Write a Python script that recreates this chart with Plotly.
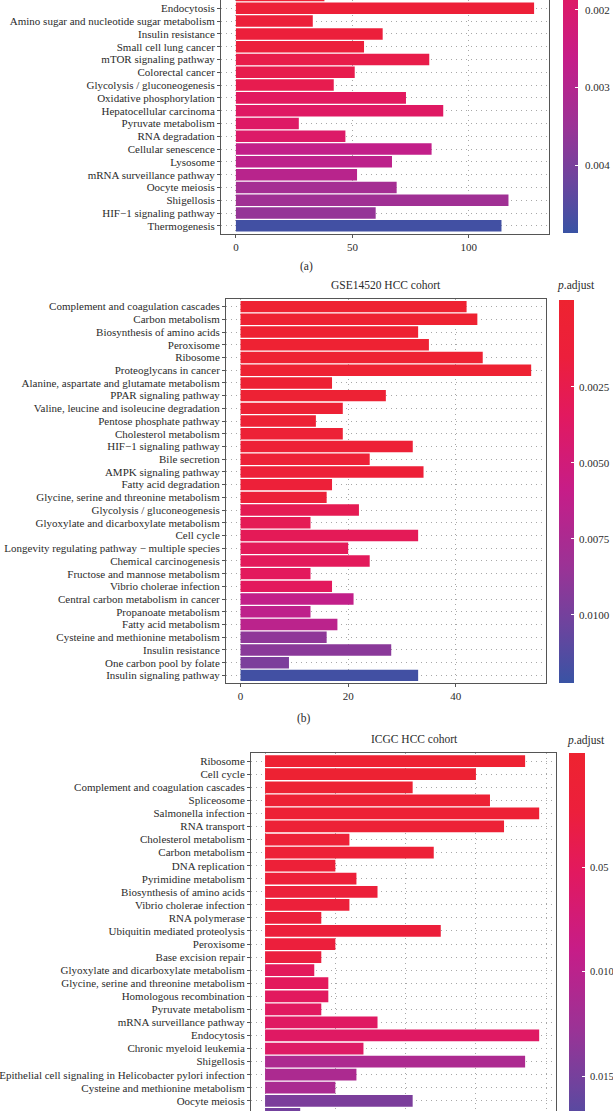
import plotly.graph_objects as go

W, H = 613, 1111

# ---------------- Panel (a) ----------------
a_terms = ["Spliceosome", "Endocytosis", "Amino sugar and nucleotide sugar metabolism",
           "Insulin resistance", "Small cell lung cancer", "mTOR signaling pathway",
           "Colorectal cancer", "Glycolysis / gluconeogenesis", "Oxidative phosphorylation",
           "Hepatocellular carcinoma", "Pyruvate metabolism", "RNA degradation",
           "Cellular senescence", "Lysosome", "mRNA surveillance pathway", "Oocyte meiosis",
           "Shigellosis", "HIF\u22121 signaling pathway", "Thermogenesis"]
a_counts = [38, 128, 33, 63, 55, 83, 51, 42, 73, 89, 27, 47, 84, 67, 52, 69, 117, 60, 114]
a_padj = [0.0007, 0.0008, 0.0009, 0.00095, 0.0010, 0.0013, 0.00135, 0.0014, 0.0017, 0.0018,
          0.00185, 0.0019, 0.0027, 0.0028, 0.0029, 0.0033, 0.0034, 0.0036, 0.00476]
a_ticks = [0, 50, 100]
a_cbar_ticks = [0.002, 0.003, 0.004]
a_cbar_text = ["0.002", "0.003", "0.004"]

# ---------------- Panel (b) ----------------
b_terms = ["Complement and coagulation cascades", "Carbon metabolism", "Biosynthesis of amino acids",
           "Peroxisome", "Ribosome", "Proteoglycans in cancer",
           "Alanine, aspartate and glutamate metabolism", "PPAR signaling pathway",
           "Valine, leucine and isoleucine degradation", "Pentose phosphate pathway",
           "Cholesterol metabolism", "HIF\u22121 signaling pathway", "Bile secretion",
           "AMPK signaling pathway", "Fatty acid degradation",
           "Glycine, serine and threonine metabolism", "Glycolysis / gluconeogenesis",
           "Glyoxylate and dicarboxylate metabolism", "Cell cycle",
           "Longevity regulating pathway \u2212 multiple species", "Chemical carcinogenesis",
           "Fructose and mannose metabolism", "Vibrio cholerae infection",
           "Central carbon metabolism in cancer", "Propanoate metabolism",
           "Fatty acid metabolism", "Cysteine and methionine metabolism", "Insulin resistance",
           "One carbon pool by folate", "Insulin signaling pathway"]
b_counts = [42, 44, 33, 35, 45, 54, 17, 27, 19, 14, 19, 32, 24, 34, 17, 16, 22, 13, 33, 20,
            24, 13, 17, 21, 13, 18, 16, 28, 9, 33]
b_padj = [0.00001, 0.00002, 0.00004, 0.00006, 0.00008, 0.0001, 0.0002, 0.0003, 0.0004, 0.0005,
          0.0006, 0.0007, 0.0008, 0.0009, 0.0010, 0.0011, 0.0028, 0.0029, 0.0030, 0.0031,
          0.0032, 0.0033, 0.0033, 0.0062, 0.0064, 0.0066, 0.0089, 0.0091, 0.0097, 0.0119]
b_ticks = [0, 20, 40]
b_cbar_ticks = [0.0025, 0.0050, 0.0075, 0.0100]
b_cbar_text = ["0.0025", "0.0050", "0.0075", "0.0100"]

# ---------------- Panel (c) ----------------
c_terms = ["Ribosome", "Cell cycle", "Complement and coagulation cascades", "Spliceosome",
           "Salmonella infection", "RNA transport", "Cholesterol metabolism", "Carbon metabolism",
           "DNA replication", "Pyrimidine metabolism", "Biosynthesis of amino acids",
           "Vibrio cholerae infection", "RNA polymerase", "Ubiquitin mediated proteolysis",
           "Peroxisome", "Base excision repair", "Glyoxylate and dicarboxylate metabolism",
           "Glycine, serine and threonine metabolism", "Homologous recombination",
           "Pyruvate metabolism", "mRNA surveillance pathway", "Endocytosis",
           "Chronic myeloid leukemia", "Shigellosis",
           "Epithelial cell signaling in Helicobacter pylori infection",
           "Cysteine and methionine metabolism", "Oocyte meiosis", "Mismatch repair"]
c_counts = [37, 30, 21, 32, 39, 34, 12, 24, 10, 13, 16, 12, 8, 25, 10, 8, 7, 9, 9, 8, 16, 39,
            14, 37, 13, 10, 21, 5]
c_padj = [0.0002, 0.0003, 0.0005, 0.0006, 0.0008, 0.0009, 0.0012, 0.0013, 0.0015, 0.0016,
          0.0018, 0.0019, 0.0021, 0.0022, 0.0024, 0.0026, 0.0049, 0.0050, 0.0051, 0.0053,
          0.0055, 0.0056, 0.0058, 0.0112, 0.0113, 0.0114, 0.0147, 0.0152]
c_ticks = [0, 10, 20, 30, 40]
c_cbar_ticks = [0.005, 0.010, 0.015]
c_cbar_text = ["0.05", "0.010", "0.015"]

# ---------------- styling ----------------
FONT = "Liberation Serif"
TXT = "#2b2b2b"
FRAME = "#555555"
GRID = "#a8a8a8"
DOT = "1px,4px"
# p-fraction 0 (lowest p) = red ... 1 (highest p) = blue
P_SCALE = [(0.0, "#EE2330"), (0.15, "#EC1F3C"), (0.3, "#E2195F"), (0.5, "#C61D88"),
           (0.7, "#9A3396"), (0.85, "#6C449E"), (1.0, "#3953A4")]
# values are negated on the colour axis so that low p (red) sits at the top of the bar
SCALE = [[round(1 - f, 4), c] for f, c in reversed(P_SCALE)]


def px_x(x):
    return x / W


def px_y(y):
    return 1 - y / H


# colourbar geometry: (left px, thickness, top px, length px, p at top, p at bottom)
CB = {
    "coloraxis": (563.3, 15, 233 - 351, 351, 0.00035, 0.004877),
    "coloraxis2": (559.0, 15, 300, 383, -0.00035, 0.01224),
    "coloraxis3": (569.3, 16, 753.3, 396, -0.00047, 0.0185),
}
CB_LABEL = {"coloraxis": (582.7, 11), "coloraxis2": (576.7, 11), "coloraxis3": (587.5, 10.5)}

fig = go.Figure()

panels = [
    dict(terms=a_terms, counts=a_counts, padj=a_padj, ca="coloraxis",
         cticks=a_cbar_ticks, ctext=a_cbar_text),
    dict(terms=b_terms, counts=b_counts, padj=b_padj, ca="coloraxis2",
         cticks=b_cbar_ticks, ctext=b_cbar_text),
    dict(terms=c_terms, counts=c_counts, padj=c_padj, ca="coloraxis3",
         cticks=c_cbar_ticks, ctext=c_cbar_text),
]
coloraxes = {}
for i, p in enumerate(panels):
    sfx = "" if i == 0 else str(i + 1)
    fig.add_trace(go.Bar(
        x=p["counts"], y=p["terms"], orientation="h",
        marker=dict(color=[-v for v in p["padj"]], coloraxis=p["ca"], line=dict(width=0)),
        customdata=p["padj"],
        hovertemplate="%{y}<br>Count %{x}<br>p.adjust %{customdata}<extra></extra>",
        xaxis="x" + sfx, yaxis="y" + sfx, showlegend=False,
    ))
    left, thick, top, length, ptop, pbot = CB[p["ca"]]
    coloraxes[p["ca"]] = dict(
        colorscale=SCALE, cmin=-pbot, cmax=-ptop,
        colorbar=dict(x=px_x(left), xanchor="left", xref="paper", thickness=thick,
                      thicknessmode="pixels", y=px_y(top), yanchor="top", yref="paper",
                      len=length, lenmode="pixels", xpad=0, ypad=0, outlinewidth=0,
                      ticks="inside", ticklen=3, tickcolor="white",
                      tickvals=[-v for v in p["cticks"]], showticklabels=False))
    # tick labels of the colour bar, placed beside the bar
    lx, lsize = CB_LABEL[p["ca"]]
    for v, t in zip(p["cticks"], p["ctext"]):
        ypx = top + (v - ptop) / (pbot - ptop) * length
        fig.add_annotation(text=t, x=px_x(lx), y=px_y(ypx),
                           xref="paper", yref="paper", xanchor="left", yanchor="middle",
                           showarrow=False, font=dict(family=FONT, size=lsize, color=TXT))

common_x = dict(showline=True, linecolor=FRAME, linewidth=1, ticks="outside", ticklen=3,
                tickcolor=FRAME, showgrid=True, gridcolor=GRID, griddash=DOT, gridwidth=1,
                zeroline=False, automargin=False,
                tickfont=dict(family=FONT, size=11, color=TXT))
common_y = dict(showline=True, linecolor=FRAME, linewidth=1, mirror=True, ticks="outside",
                ticklen=3, tickcolor=FRAME, showgrid=True, gridcolor=GRID, griddash=DOT,
                gridwidth=1, zeroline=False, automargin=False, type="category",
                tickfont=dict(family=FONT, size=11, color=TXT))

fig.update_layout(
    width=W, height=H, margin=dict(l=0, r=0, t=0, b=0, autoexpand=False),
    paper_bgcolor="white", plot_bgcolor="white", template="none", bargap=0.1,
    xaxis=dict(common_x, domain=[px_x(221), px_x(549)], anchor="y", range=[-6.4, 134.4],
               tickvals=a_ticks),
    yaxis=dict(common_y, domain=[px_y(233.5), 1.0], anchor="x", categoryorder="array",
               categoryarray=a_terms, tickvals=a_terms, range=[len(a_terms) - 0.4, 0.35]),
    xaxis2=dict(common_x, domain=[px_x(226), px_x(545.7)], anchor="y2", range=[-2.7, 56.7],
                tickvals=b_ticks, mirror=True),
    yaxis2=dict(common_y, domain=[px_y(683), px_y(299)], anchor="x2", categoryorder="array",
                categoryarray=b_terms, tickvals=b_terms, range=[len(b_terms) - 0.4, -0.6]),
    xaxis3=dict(common_x, domain=[px_x(251), px_x(555.7)], anchor="y3", range=[-2.0, 41.35],
                tickvals=c_ticks, side="top", ticks="", showticklabels=False),
    yaxis3=dict(common_y, domain=[0.0, px_y(753.3)], anchor="x3", categoryorder="array",
                categoryarray=c_terms, tickvals=c_terms, range=[26.78, -0.6]),
    **coloraxes,
)

annos = [
    ("(a)", 307, 266),
    ("GSE14520 HCC cohort", 386, 285),
    ("<i>p</i>.adjust", 576, 285),
    ("(b)", 304, 718),
    ("ICGC HCC cohort", 414, 739),
    ("<i>p</i>.adjust", 586, 740),
]
for text, x, y in annos:
    fig.add_annotation(text=text, x=px_x(x), y=px_y(y), xref="paper", yref="paper",
                       xanchor="center", yanchor="middle", showarrow=False,
                       font=dict(family=FONT, size=11.5, color=TXT))

fig.write_html("out.html", config={"displayModeBar": False},
               post_script="document.body.style.margin='0px';document.body.style.overflow='hidden';")
